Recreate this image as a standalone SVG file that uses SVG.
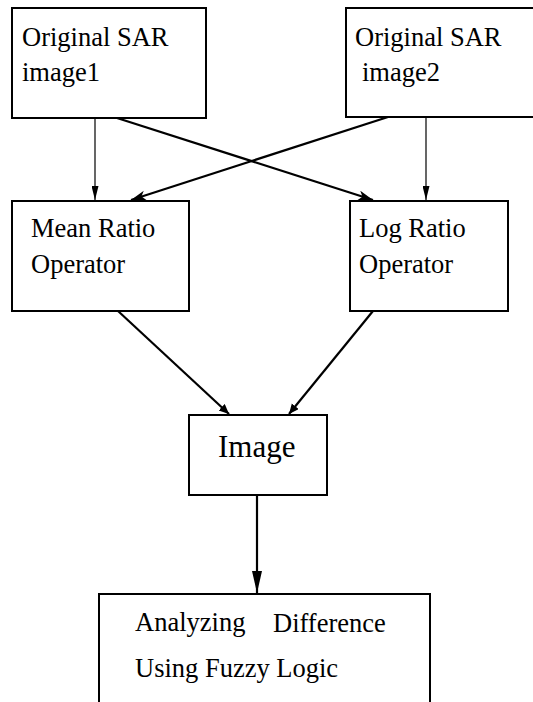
<svg xmlns="http://www.w3.org/2000/svg" width="533" height="702" viewBox="0 0 533 702">
<style>
.box{fill:#fff;stroke:#000;stroke-width:2}
.t{font-family:"Liberation Serif","Times New Roman",serif;font-size:26.5px;fill:#000}
.big{font-size:31px}
.thin{stroke:#000;stroke-width:1.2;fill:none}
.thick{stroke:#000;stroke-width:2.2;fill:none}
</style>
<defs>
<marker id="aThin" markerUnits="userSpaceOnUse" markerWidth="15" markerHeight="7" refX="14" refY="3.5" orient="auto"><path d="M0,0 L14,3.5 L0,7 Z" fill="#000"/></marker>
<marker id="aBarb" markerUnits="userSpaceOnUse" markerWidth="16" markerHeight="11" refX="15" refY="5" orient="auto"><path d="M0,0 L15,5 L0,10 L4,5 Z" fill="#000"/></marker>
<marker id="aShort" markerUnits="userSpaceOnUse" markerWidth="11" markerHeight="10" refX="10" refY="4.5" orient="auto"><path d="M0,0 L10,4.5 L0,9 Z" fill="#000"/></marker>
<marker id="aBig" markerUnits="userSpaceOnUse" markerWidth="23" markerHeight="11" refX="22" refY="5" orient="auto"><path d="M0,0 L22,5 L0,10 Z" fill="#000"/></marker>
</defs>
<rect width="533" height="702" fill="#fff"/>
<g id="connectors">
<line class="thin" x1="95" y1="118" x2="95" y2="200" marker-end="url(#aThin)"/>
<line class="thick" x1="117" y1="118" x2="373" y2="200" marker-end="url(#aBarb)"/>
<line class="thick" x1="388" y1="117" x2="131" y2="200" marker-end="url(#aBarb)"/>
<line class="thin" x1="426" y1="117" x2="426" y2="200" marker-end="url(#aThin)"/>
<line class="thick" x1="118" y1="311" x2="229" y2="414" marker-end="url(#aShort)"/>
<line class="thick" x1="373" y1="311" x2="289" y2="414" marker-end="url(#aShort)"/>
<line class="thick" x1="257" y1="495" x2="257" y2="593" marker-end="url(#aBig)"/>
</g>
<g id="sar1">
<rect class="box" x="12" y="8" width="194" height="110"/>
<text class="t" x="22" y="46">Original SAR</text>
<text class="t" x="22" y="81">image1</text>
</g>
<g id="sar2">
<rect class="box" x="346" y="8" width="200" height="109"/>
<text class="t" x="355" y="46">Original SAR</text>
<text class="t" x="362" y="81">image2</text>
</g>
<g id="meanratio">
<rect class="box" x="12" y="201" width="177" height="110"/>
<text class="t" x="31" y="237">Mean Ratio</text>
<text class="t" x="31" y="273">Operator</text>
</g>
<g id="logratio">
<rect class="box" x="350" y="201" width="158" height="110"/>
<text class="t" x="359" y="237">Log Ratio</text>
<text class="t" x="359" y="273">Operator</text>
</g>
<g id="image">
<rect class="box" x="189" y="415" width="138" height="80"/>
<text class="t big" x="218" y="457">Image</text>
</g>
<g id="fuzzy">
<rect class="box" x="99" y="594" width="331" height="130"/>
<text class="t" x="135" y="631">Analyzing</text>
<text class="t" x="273" y="632">Difference</text>
<text class="t" x="135" y="677">Using Fuzzy Logic</text>
</g>
</svg>
